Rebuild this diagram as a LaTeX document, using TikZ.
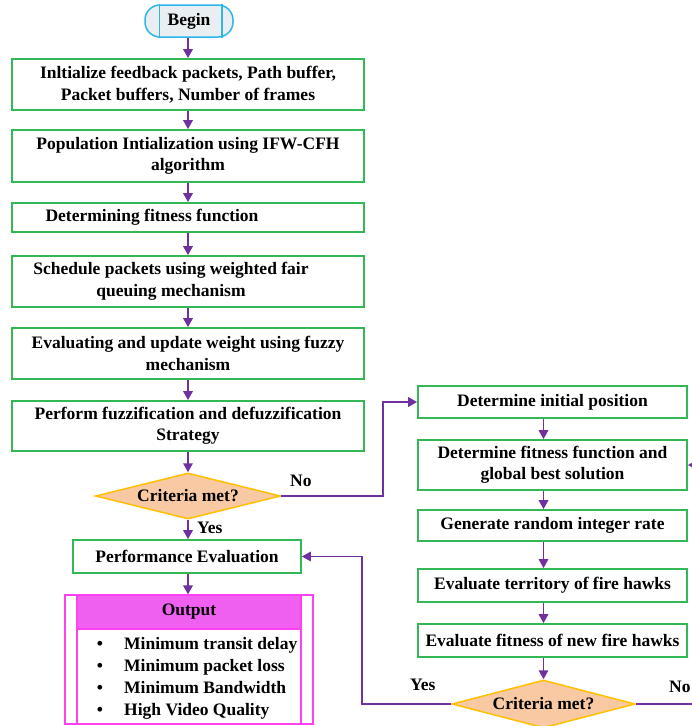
\documentclass[tikz,border=0pt]{standalone}
\usepackage{fontspec}
\setmainfont{Liberation Serif}
\usetikzlibrary{shapes.geometric,arrows.meta,calc}

\definecolor{flowgreen}{HTML}{33B855}
\definecolor{flowpurple}{HTML}{7030A0}
\definecolor{decfill}{HTML}{F8C9A2}
\definecolor{decline}{HTML}{FFC000}
\definecolor{startline}{HTML}{2EB6EA}
\definecolor{startfill}{HTML}{E9EEF3}
\definecolor{outline}{HTML}{FF40F0}
\definecolor{outhead}{HTML}{F060F0}

\tikzset{
  lbl/.style={font=\fontsize{17.5}{21.5}\selectfont\bfseries, inner sep=0pt},
  procbox/.style={draw=flowgreen, line width=1.7pt, rectangle, inner sep=0pt,
    align=center, font=\fontsize{17.5}{21.5}\selectfont\bfseries},
  decision/.style={diamond, aspect=4, draw=decline, fill=decfill, line width=1.5pt, inner sep=0pt,
    font=\fontsize{17.5}{21.5}\selectfont\bfseries},
  flow/.style={draw=flowpurple, line width=1.6pt, -{Triangle[length=9pt,width=9.5pt]}},
}

\begin{document}
\begin{tikzpicture}[x=1pt, y=-1pt]
\useasboundingbox (0,0) rectangle (692,726);
\clip (0,0) rectangle (692,726);

% start terminal
\node[draw=startline, fill=startfill, line width=1.5pt, rounded corners=15pt,
      minimum width=88pt, minimum height=32pt, inner sep=0pt, lbl] (begin) at (189,21) {Begin};
\draw[startline, line width=1.5pt] ([xshift=15pt]begin.north west) -- ([xshift=15pt]begin.south west);
\draw[startline, line width=1.5pt] ([xshift=-12pt]begin.north east) -- ([xshift=-12pt]begin.south east);

% main column
\node[procbox, minimum width=352pt, minimum height=51pt] (b1) at (188,84.5)
  {Inltialize feedback packets, Path buffer,\\Packet buffers, Number of frames};
\node[procbox, minimum width=352pt, minimum height=52pt] (b2) at (188,156)
  {Population Intialization using IFW-CFH\\algorithm};
\node[procbox, minimum width=352pt, minimum height=29pt] (b3) at (188,217.5) {};
\node[lbl] (b3t) at (152,217.5) {Determining fitness function};
\node[procbox, minimum width=352pt, minimum height=51pt] (b4) at (188,281.5) {};
\node[lbl, align=center] (b4t) at (171,281.5) {Schedule packets using weighted fair\\queuing mechanism};
\node[procbox, minimum width=352pt, minimum height=51pt] (b5) at (188,353.5)
  {Evaluating and update weight using fuzzy\\mechanism};
\node[procbox, minimum width=352pt, minimum height=50pt] (b6) at (188,426)
  {Perform fuzzification and defuzzification\\Strategy};
\node[decision, minimum width=185pt, minimum height=46pt] (d1) at (188,496) {Criteria met?};
\node[procbox, minimum width=228pt, minimum height=33pt] (perf) at (187,556.5) {Performance Evaluation};

% output panel
\node[draw=outline, line width=1.2pt, minimum width=248pt, minimum height=129pt, inner sep=0pt] (outer) at (189,659.5) {};
\node[draw=outline, line width=1.2pt, minimum width=224pt, minimum height=129pt, inner sep=0pt] (inner) at (189,659.5) {};
\node[draw=outline, fill=outhead, line width=1.2pt, minimum width=224pt, minimum height=34pt, inner sep=0pt, lbl] (outhd) at (189,612) {Output};
\foreach \t [count=\i] in {Minimum transit delay, Minimum packet loss, Minimum Bandwidth, High Video Quality}{
  \node[lbl, anchor=base] (bul\i) at (100,627+22*\i) {\textbullet};
  \node[lbl, anchor=base west] (item\i) at (124,627+22*\i) {\t};
}

% fire hawk column
\node[procbox, minimum width=269pt, minimum height=32pt] (r1) at (552.5,402) {Determine initial position};
\node[procbox, minimum width=269pt, minimum height=50pt] (r2) at (552.5,465)
  {Determine fitness function and\\global best solution};
\node[procbox, minimum width=269pt, minimum height=31pt] (r3) at (552.5,525.5) {Generate random integer rate};
\node[procbox, minimum width=269pt, minimum height=33pt] (r4) at (552.5,585.5) {Evaluate territory of fire hawks};
\node[procbox, minimum width=269pt, minimum height=33pt] (r5) at (552.5,640.5) {Evaluate fitness of new fire hawks};
\node[decision, minimum width=183pt, minimum height=48pt] (d2) at (543.5,704) {Criteria met?};

% labels
\node[lbl, anchor=base west] (no1) at (290,486) {No};
\node[lbl, anchor=base west] (yes1) at (197,533) {Yes};
\node[lbl, anchor=base west] (yes2) at (410,690) {Yes};
\node[lbl, anchor=base west] (no2) at (669,692) {No};

% connectors, main column
\draw[flow] (begin.south -| b1) -- (b1.north);
\draw[flow] (b1) -- (b2);
\draw[flow] (b2.south) -- (b3.north);
\draw[flow] (b3.south) -- (b4.north);
\draw[flow] (b4.south) -- (b5.north);
\draw[flow] (b5.south) -- (b6.north);
\draw[flow] (b6.south) -- (d1.north);
\draw[flow] (d1.south) -- (perf.north -| d1);
\draw[flow] (perf.south -| d1) -- (outer.north -| d1);
\draw[flow] (d1.east) -- ++(102pt,0) |- (r1.west);

% connectors, fire hawk column
\draw[flow] (d2 |- r1.south) -- (d2 |- r2.north);
\draw[flow] (d2 |- r2.south) -- (d2 |- r3.north);
\draw[flow] (d2 |- r3.south) -- (d2 |- r4.north);
\draw[flow] (d2 |- r4.south) -- (d2 |- r5.north);
\draw[flow] (d2 |- r5.south) -- (d2.north);
\draw[flow] (d2.west) -- ++(-89pt,0) |- (perf.east);
\coordinate (loop) at (720,704);
\draw[flow] (d2.east) -- (loop) |- (r2.east);
\end{tikzpicture}
\end{document}
